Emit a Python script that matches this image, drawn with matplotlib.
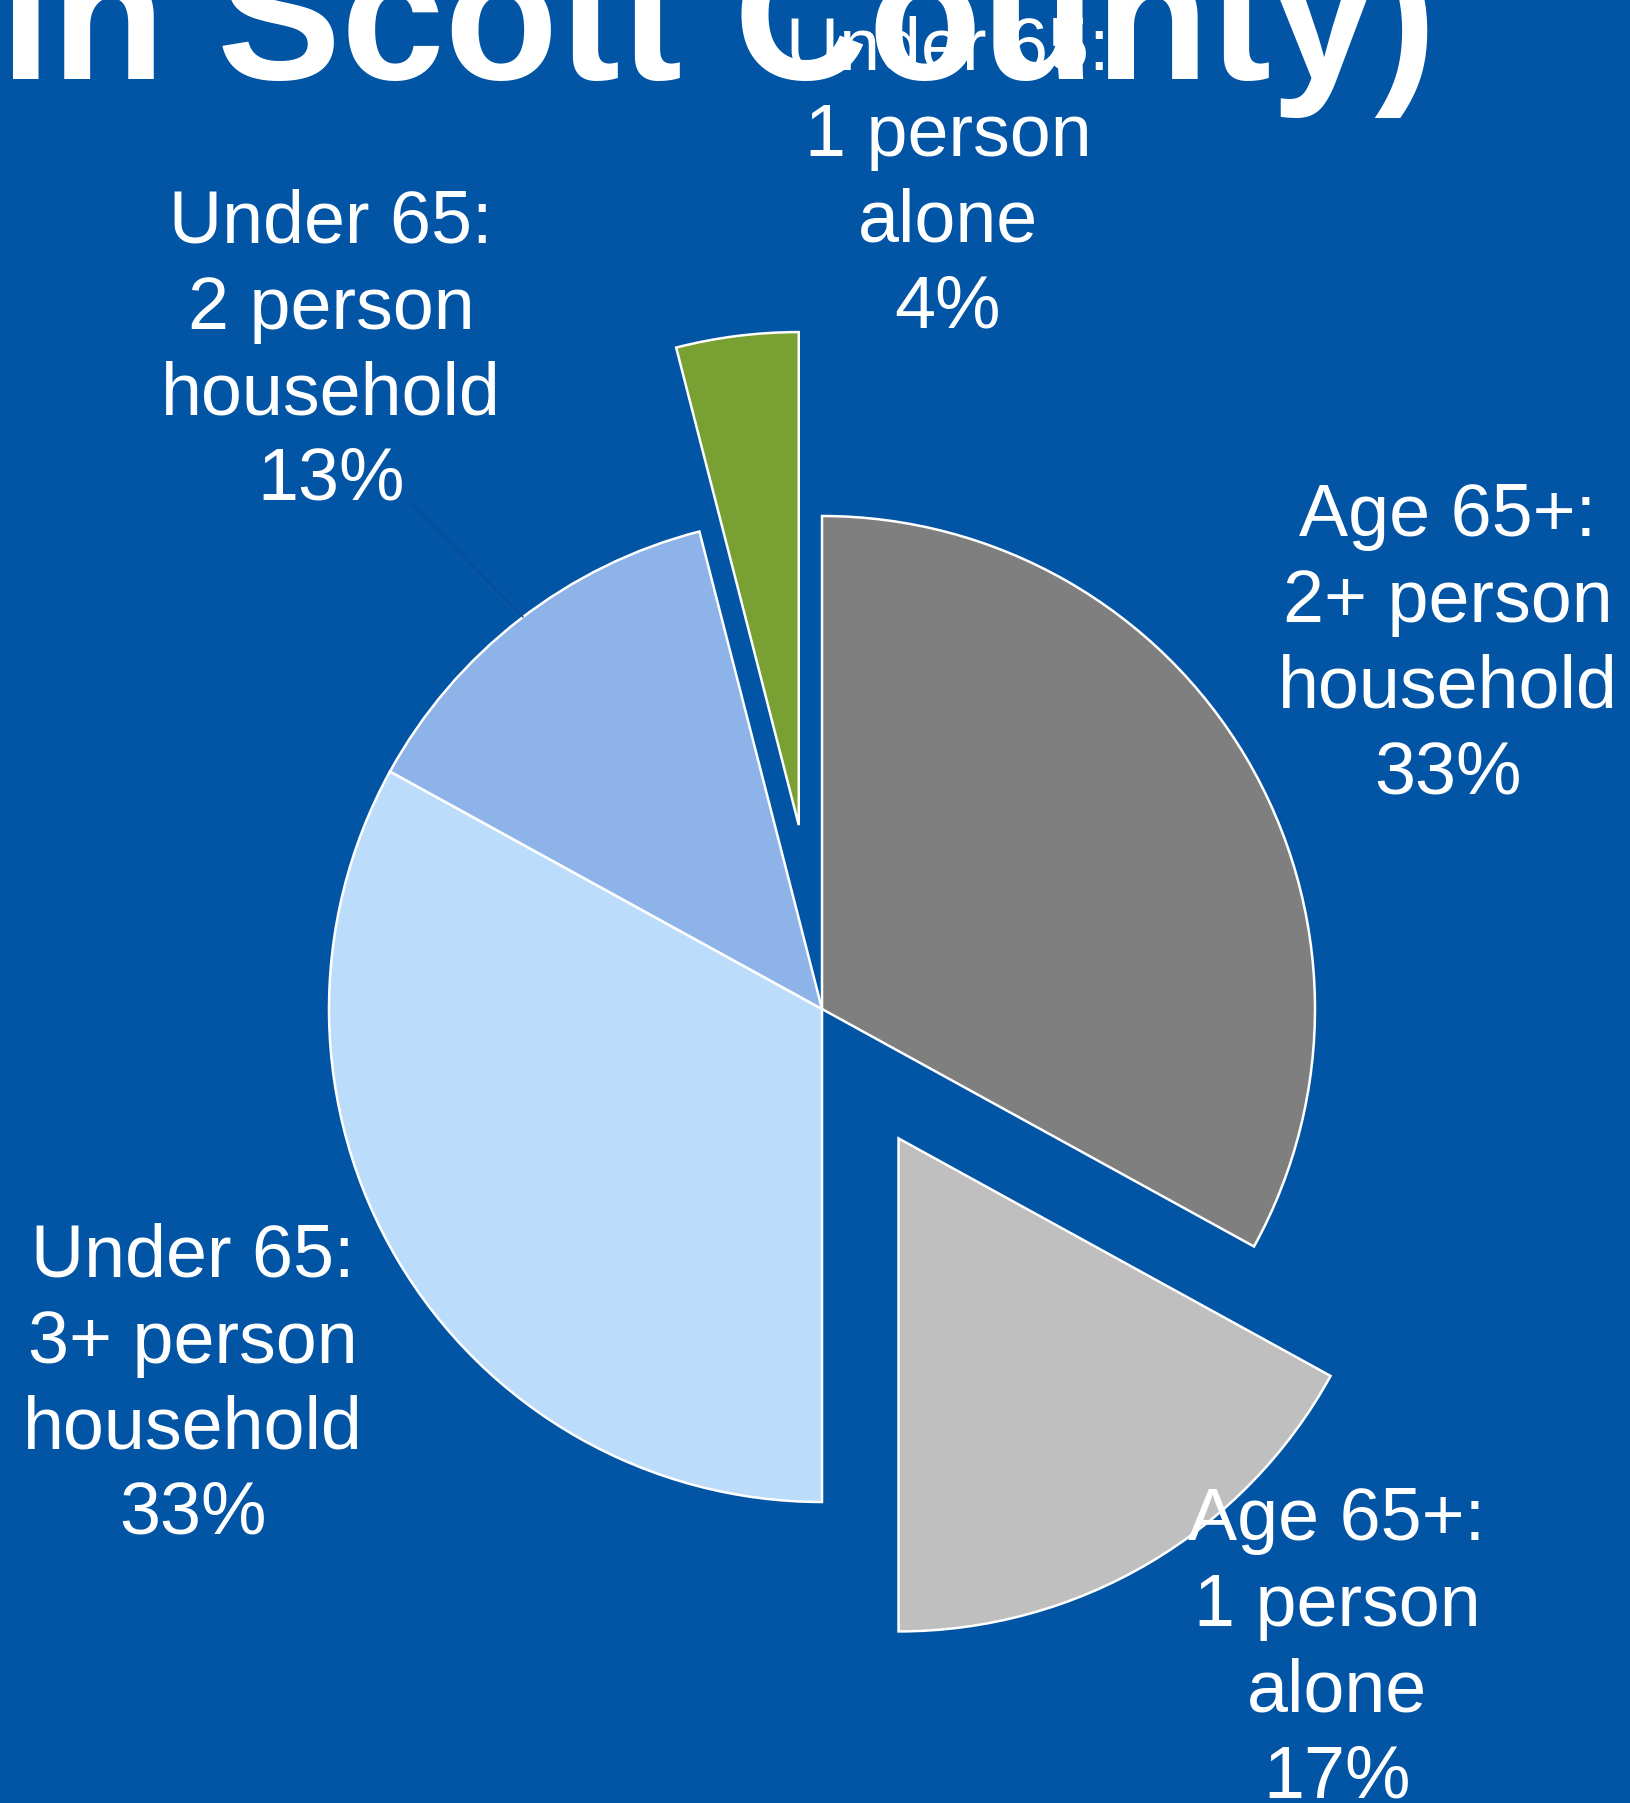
import matplotlib
matplotlib.use("Agg")
import matplotlib.pyplot as plt

# household type shares, clockwise from 12 o'clock
labels = ["Age 65+:\n2+ person\nhousehold\n33%",
          "Age 65+:\n1 person\nalone\n17%",
          "Under 65:\n3+ person\nhousehold\n33%",
          "Under 65:\n2 person\nhousehold\n13%",
          "Under 65:\n1 person\nalone\n4%"]
shares = [33, 17, 33, 13, 4]
colors = ["#7f7f7f", "#bfbfbf", "#bcdcfc", "#8db3e8", "#78a032"]
explode = [0, 0.305, 0, 0, 0.376]

W, H = 1630, 1803
bg = "#0254a5"
cx, cy, r = 822, 1009, 493   # pie centre and radius in pixels

plt.rcParams["font.family"] = ["Liberation Sans", "DejaVu Sans"]

fig = plt.figure(figsize=(W / 100, H / 100), dpi=100, facecolor=bg)
ax = fig.add_axes([0, 0, 1, 1])
ax.set_facecolor(bg)

ax.pie(shares, colors=colors, explode=explode, startangle=90,
       counterclock=False, radius=1, frame=True,
       wedgeprops=dict(edgecolor="white", linewidth=1.8))
ax.set_aspect("equal")
ax.set_xlim(-cx / r, (W - cx) / r)
ax.set_ylim((cy - H) / r, cy / r)
ax.axis("off")


def fx(x):
    return x / W


def fy(y):
    return 1 - y / H


# faint leader line for the 13% label
fig.add_artist(plt.Line2D([fx(410), fx(523)], [fy(502), fy(617)],
                          color="#0b4a92", lw=1))

fig.text(fx(0), fy(79), "in Scott County)", color="white", fontsize=134,
         fontweight="bold", ha="left", va="baseline")

# label anchor: centre x, baseline of the last line (pixels)
label_pos = [(1448, 793), (1337, 1797), (193, 1534), (331, 500), (948, 327)]
for text, (x, y) in zip(labels, label_pos):
    fig.text(fx(x), fy(y), text, color="white", fontsize=53,
             ha="center", va="baseline", multialignment="center",
             linespacing=1.31)

fig.savefig("out.png", dpi=100, facecolor=bg)
